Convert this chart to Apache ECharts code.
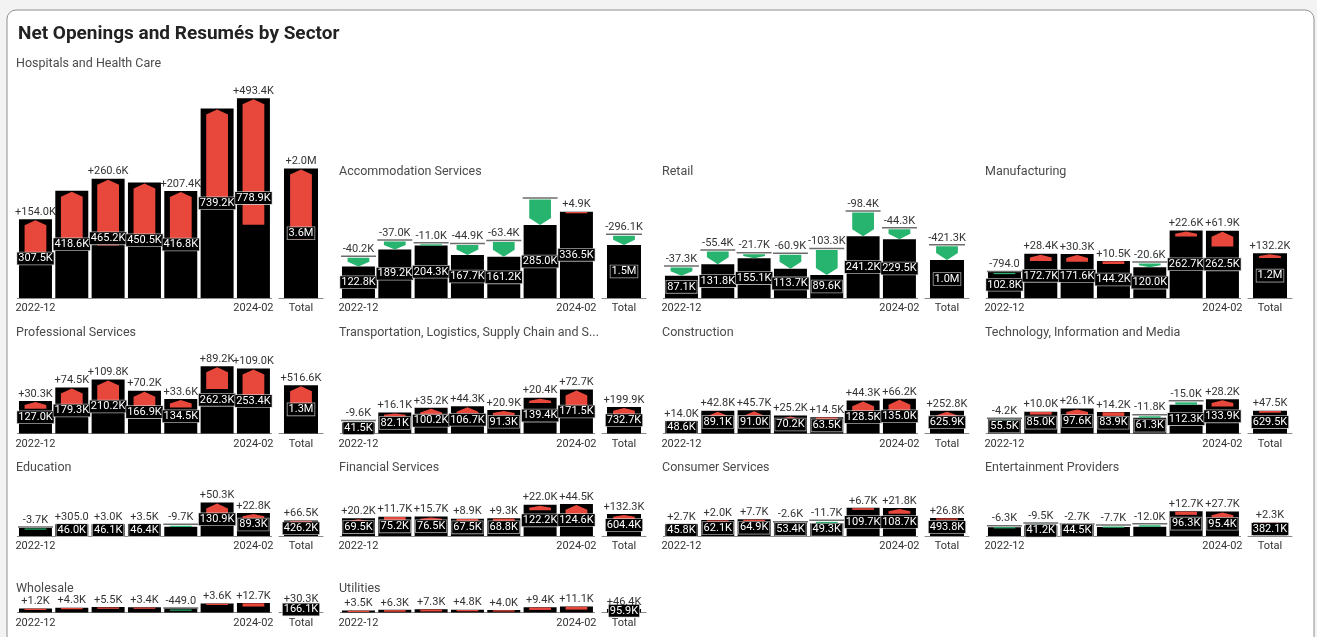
<!DOCTYPE html>
<html>
<head>
<meta charset="utf-8">
<script src="https://cdn.jsdelivr.net/npm/echarts@6/dist/echarts.min.js"></script>
<style>
  html, body { margin: 0; padding: 0; background: #f3f3f3; }
  #chart { width: 1317px; height: 637px; }
</style>
</head>
<body>
<div id="chart"></div>
<script>
// Reporting periods (only the first and last are labelled on the axis)
const periods = ['2022-12', '2023-03', '2023-05', '2023-07', '2023-09', '2023-12', '2024-02'];

const sectors = [
  'Hospitals and Health Care', 'Accommodation Services', 'Retail', 'Manufacturing',
  'Professional Services', 'Transportation, Logistics, Supply Chain and S...', 'Construction', 'Technology, Information and Media',
  'Education', 'Financial Services', 'Consumer Services', 'Entertainment Providers',
  'Wholesale', 'Utilities'
];

// Per-period volume in thousands (black bars)
const sectorValues = [
  [307.5, 418.6, 465.2, 450.5, 416.8, 739.2, 778.9],
  [122.8, 189.2, 204.3, 167.7, 161.2, 285.0, 336.5],
  [87.1, 131.8, 155.1, 113.7, 89.6, 241.2, 229.5],
  [102.8, 172.7, 171.6, 144.2, 120.0, 262.7, 262.5],
  [127.0, 179.3, 210.2, 166.9, 134.5, 262.3, 253.4],
  [41.5, 82.1, 100.2, 106.7, 91.3, 139.4, 171.5],
  [48.6, 89.1, 91.0, 70.2, 63.5, 128.5, 135.0],
  [55.5, 85.0, 97.6, 83.9, 61.3, 112.3, 133.9],
  [31.5, 46.0, 46.1, 46.4, 36.0, 130.9, 89.3],
  [69.5, 75.2, 76.5, 67.5, 68.8, 122.2, 124.6],
  [45.8, 62.1, 64.9, 53.4, 49.3, 109.7, 108.7],
  [34.0, 41.2, 44.5, 35.0, 35.7, 96.3, 95.4],
  [16.0, 19.0, 21.0, 20.5, 17.0, 35.5, 37.1],
  [8.0, 10.5, 12.5, 11.0, 10.0, 20.5, 23.4]
];

// Net change per period in thousands (red up / green down arrows)
const sectorChanges = [
  [154.0, 228.0, 260.6, 240.0, 207.4, 390.0, 493.4],
  [-40.2, -37.0, -11.0, -44.9, -63.4, -104.5, 4.9],
  [-37.3, -55.4, -21.7, -60.9, -103.3, -98.4, -44.3],
  [-0.794, 28.4, 30.3, 10.5, -20.6, 22.6, 61.9],
  [30.3, 74.5, 109.8, 70.2, 33.6, 89.2, 109.0],
  [-9.6, 16.1, 35.2, 44.3, 20.9, 20.4, 72.7],
  [14.0, 42.8, 45.7, 25.2, 14.5, 44.3, 66.2],
  [-4.2, 10.0, 26.1, 14.2, -11.8, -15.0, 28.2],
  [-3.7, 0.305, 3.0, 3.5, -9.7, 50.3, 22.8],
  [20.2, 11.7, 15.7, 8.9, 9.3, 22.0, 44.5],
  [2.7, 2.0, 7.7, -2.6, -11.7, 6.7, 21.8],
  [-6.3, -9.5, -2.7, -7.7, -12.0, 12.7, 27.7],
  [1.2, 4.3, 5.5, 3.4, -0.449, 3.6, 12.7],
  [3.5, 6.3, 7.3, 4.8, 4.0, 9.4, 11.1]
];

// Sector totals in thousands
const totalValues = [3576.7, 1466.7, 1048.0, 1236.5, 1333.6, 732.7, 625.9, 629.5, 426.2, 604.4, 493.8, 382.1, 166.1, 95.9];
const totalChanges = [1973.4, -296.1, -421.3, 132.2, 516.6, 199.9, 252.8, 47.5, 66.5, 132.3, 26.8, 2.3, 30.3, 46.4];

// Change labels left out where they would crowd their neighbours
const omittedChangeLabels = { 0: [1, 3, 5], 1: [5] };

const FONT = 'Roboto, "Noto Sans", sans-serif';
const RED = '#e8473b';
const GREEN = '#27b46e';
const MONTH_PX_PER_K = 0.2565;
const TOTAL_PX_PER_K = 0.0362;
const PLOT_H = 250;
const MIN_LABELLED = 40;          // smaller period bars carry no value label
const COLS = 4;
const colX = c => 16 + 323 * c;
const rowBase = [298, 433.5, 536, 612.5];
const rowTitleTop = [165, 326, 461, 582];
const tallTitleTop = 57;          // first panel starts higher

function fmt(v) {
  const a = Math.abs(v);
  if (a >= 1000) return (v / 1000).toFixed(1) + 'M';
  if (a >= 1) return v.toFixed(1) + 'K';
  return (v * 1000).toFixed(1);
}
function fmtChange(v) { return (v > 0 ? '+' : '') + fmt(v); }

function makeRender(barRatio, arrowRatio) {
  return function (params, api) {
    const cat = api.value(0), val = api.value(1), chg = api.value(2);
    const showVal = api.value(3), showChg = api.value(4);
    const base = api.coord([cat, 0]);
    const top = api.coord([cat, val]);
    const ref = api.coord([cat, val - chg]);
    const band = api.size([1, 0])[0];
    const bw = band * barRatio, aw = bw * arrowRatio;
    const cx = base[0], l = cx - aw / 2, r = cx + aw / 2;
    const kids = [];
    kids.push({ type: 'rect', shape: { x: cx - bw / 2, y: top[1], width: bw, height: base[1] - top[1] }, style: { fill: '#000' } });
    if (chg > 0) {
      const y0 = top[1] + 1, y1 = ref[1];
      const h = y1 - y0;
      if (h < 3) {
        kids.push({ type: 'rect', shape: { x: l, y: top[1] + 0.3, width: aw, height: Math.max(y1 - top[1], 1.3) }, style: { fill: RED } });
      } else {
        const cap = Math.min(5, h * 0.45);
        kids.push({ type: 'polygon', shape: { points: [[l, y1], [r, y1], [r, y0 + cap], [cx, y0], [l, y0 + cap]] }, style: { fill: RED } });
      }
    } else if (chg < 0) {
      kids.push({ type: 'line', shape: { x1: cx - bw / 2 - 1, y1: ref[1], x2: cx + bw / 2 + 1, y2: ref[1] }, style: { stroke: '#6d6d6d', lineWidth: 1.5 } });
      const y0 = ref[1] + 1.5, y1 = top[1];
      const h = y1 - y0;
      if (h < 3) {
        kids.push({ type: 'rect', shape: { x: l, y: y0, width: aw, height: Math.max(h, 1.2) }, style: { fill: GREEN } });
      } else {
        const cap = Math.min(7, h * 0.55);
        kids.push({ type: 'polygon', shape: { points: [[l, y0], [r, y0], [r, y1 - cap], [cx, y1], [l, y1 - cap]] }, style: { fill: GREEN } });
      }
    }
    if (showVal) {
      kids.push({
        type: 'text',
        style: {
          text: fmt(val), x: cx, y: (top[1] + base[1]) / 2, align: 'center', verticalAlign: 'middle',
          fill: '#fff', font: '11px ' + FONT, backgroundColor: '#000',
          borderColor: 'rgba(210,210,210,0.8)', borderWidth: 0.8, padding: [1, 1, 0, 1]
        }
      });
    }
    if (showChg) {
      kids.push({
        type: 'text',
        style: {
          text: fmtChange(chg), x: cx, y: Math.min(top[1], ref[1]) - 1.5, align: 'center', verticalAlign: 'bottom',
          fill: '#333', font: '11px ' + FONT
        }
      });
    }
    return { type: 'group', children: kids };
  };
}

const grid = [], xAxis = [], yAxis = [], series = [];
const title = [{
  text: 'Net Openings and Resumés by Sector', left: 18, top: 25, padding: 0,
  textStyle: { fontSize: 19, fontWeight: 'bold', color: '#222', fontFamily: FONT }
}];

const axisCommon = {
  type: 'category',
  axisLine: { lineStyle: { color: '#8a8a8a', width: 1 } },
  axisTick: { show: false },
  splitLine: { show: false }
};

sectors.forEach((name, s) => {
  const row = Math.floor(s / COLS), col = s % COLS;
  const x0 = colX(col), baseY = rowBase[row];
  title.push({
    text: name, left: x0, top: s === 0 ? tallTitleTop : rowTitleTop[row], padding: 0,
    textStyle: { fontSize: 12.5, fontWeight: 'normal', color: '#4a4a4a', fontFamily: FONT }
  });

  // period bars
  const gi = grid.length;
  grid.push({ left: x0 + 1.3, top: baseY - PLOT_H, width: 254.3, height: PLOT_H });
  xAxis.push(Object.assign({}, axisCommon, {
    gridIndex: gi, data: periods,
    axisLabel: { interval: (i) => i === 0 || i === periods.length - 1, color: '#333', fontSize: 11, margin: 5, fontFamily: FONT }
  }));
  yAxis.push({ type: 'value', gridIndex: gi, min: 0, max: PLOT_H / MONTH_PX_PER_K, show: false });
  const omit = omittedChangeLabels[s] || [];
  series.push({
    type: 'custom', xAxisIndex: gi, yAxisIndex: gi, clip: false, silent: true,
    renderItem: makeRender(0.908, 0.66),
    encode: { x: 0, y: 1 },
    data: sectorValues[s].map((v, i) => [i, v, sectorChanges[s][i], v >= MIN_LABELLED ? 1 : 0, omit.includes(i) ? 0 : 1])
  });

  // total bar
  const ti = grid.length;
  grid.push({ left: x0 + 263, top: baseY - PLOT_H, width: 44, height: PLOT_H });
  xAxis.push(Object.assign({}, axisCommon, {
    gridIndex: ti, data: ['Total'],
    axisLabel: { color: '#333', fontSize: 11, margin: 5, fontFamily: FONT }
  }));
  yAxis.push({ type: 'value', gridIndex: ti, min: 0, max: PLOT_H / TOTAL_PX_PER_K, show: false });
  series.push({
    type: 'custom', xAxisIndex: ti, yAxisIndex: ti, clip: false, silent: true,
    renderItem: makeRender(0.773, 0.64),
    encode: { x: 0, y: 1 },
    data: [[0, totalValues[s], totalChanges[s], 1, 1]]
  });
});

const chart = echarts.init(document.getElementById('chart'), null, { renderer: 'canvas' });
chart.setOption({
  animation: false,
  backgroundColor: 'transparent',
  textStyle: { fontFamily: FONT },
  graphic: [{
    type: 'rect', z: -10, silent: true,
    shape: { x: 7, y: 10, width: 1307, height: 640, r: 9 },
    style: { fill: '#fff', stroke: '#8f8f8f', lineWidth: 1 }
  }],
  title, grid, xAxis, yAxis, series
});
</script>
</body>
</html>
